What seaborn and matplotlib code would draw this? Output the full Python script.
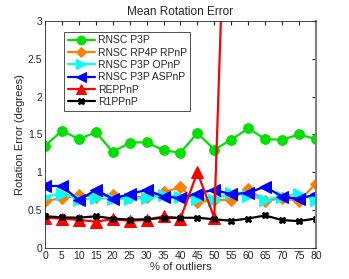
import numpy as np
import pandas as pd
import matplotlib
matplotlib.use("Agg")
import matplotlib.pyplot as plt
import seaborn as sns

# % of outliers
outliers = [0, 5, 10, 15, 20, 25, 30, 35, 40, 45, 50, 55, 60, 65, 70, 75, 80]

# mean rotation error (degrees)
rnsc_p3p = [1.35, 1.55, 1.44, 1.53, 1.27, 1.39, 1.40, 1.29, 1.26, 1.52, 1.30, 1.43, 1.58, 1.44, 1.43, 1.50, 1.44]
rnsc_rp4p_rpnp = [0.62, 0.66, 0.70, 0.68, 0.70, 0.68, 0.67, 0.74, 0.80, 0.61, 0.63, 0.64, 0.78, 0.62, 0.66, 0.62, 0.85]
rnsc_p3p_opnp = [0.68, 0.72, 0.64, 0.66, 0.65, 0.65, 0.66, 0.70, 0.68, 0.65, 0.64, 0.73, 0.69, 0.64, 0.68, 0.72, 0.63]
rnsc_p3p_aspnp = [0.82, 0.82, 0.63, 0.77, 0.65, 0.71, 0.77, 0.68, 0.66, 0.72, 0.77, 0.71, 0.73, 0.81, 0.68, 0.65, 0.71]
reppnp = [0.40, 0.39, 0.37, 0.35, 0.38, 0.36, 0.37, 0.42, 0.39, 1.00, 0.40, 7.1, 9.5, 12.0, 14.0, 16.5, 19.0]
r1ppnp = [0.42, 0.405, 0.40, 0.42, 0.39, 0.375, 0.38, 0.40, 0.40, 0.40, 0.38, 0.36, 0.39, 0.43, 0.37, 0.355, 0.39]

series = [
    ("RNSC P3P", rnsc_p3p, "#00e000", "o", 7),
    ("RNSC RP4P RPnP", rnsc_rp4p_rpnp, "#ff8000", "D", 6),
    ("RNSC P3P OPnP", rnsc_p3p_opnp, "#00ffff", ">", 8),
    ("RNSC P3P ASPnP", rnsc_p3p_aspnp, "#0000ff", "<", 8),
    ("REPPnP", reppnp, "#ff0000", "^", 8),
    ("R1PPnP", r1ppnp, "#000000", "X", 5),
]

sns.set_style("white")
plt.rcParams["font.family"] = ["Liberation Sans", "DejaVu Sans"]

fig = plt.figure(figsize=(3.49, 2.79), dpi=100)
ax = fig.add_axes([0.129, 0.111, 0.776, 0.814])

for name, vals, color, marker, ms in series:
    df = pd.DataFrame({"x": outliers, "y": vals})
    sns.lineplot(data=df, x="x", y="y", ax=ax, color=color, marker=marker,
                 markersize=ms, markeredgecolor=color, linewidth=1.6, label=name)

ax.set_xlim(0, 80)
ax.set_ylim(0, 3)
ax.set_xticks(np.arange(0, 81, 5))
ax.set_yticks([0, 0.5, 1, 1.5, 2, 2.5, 3])
ax.set_yticklabels(["0", "0.5", "1", "1.5", "2", "2.5", "3"])
ax.tick_params(direction="in", length=3, labelsize=7.5, top=True, right=True,
               colors="#262626", pad=2)
for s in ax.spines.values():
    s.set_color("#262626")
    s.set_linewidth(0.6)
ax.spines["right"].set_color("#808080")
ax.spines["right"].set_linewidth(1.5)

ax.set_xlabel("% of outliers", fontsize=8, labelpad=1)
ax.set_ylabel("Rotation Error (degrees)", fontsize=8, labelpad=2)
ax.set_title("Mean Rotation Error", fontsize=8.5, pad=4)

leg = ax.legend(loc="upper left", bbox_to_anchor=(0.07, 0.952), borderaxespad=0,
                fontsize=7.5, frameon=True, fancybox=False, edgecolor="black",
                handlelength=2.6, borderpad=0.35, labelspacing=0.22,
                handletextpad=0.3, markerscale=0.9)
leg.get_frame().set_linewidth(0.6)

fig.savefig("out.png", dpi=100)
